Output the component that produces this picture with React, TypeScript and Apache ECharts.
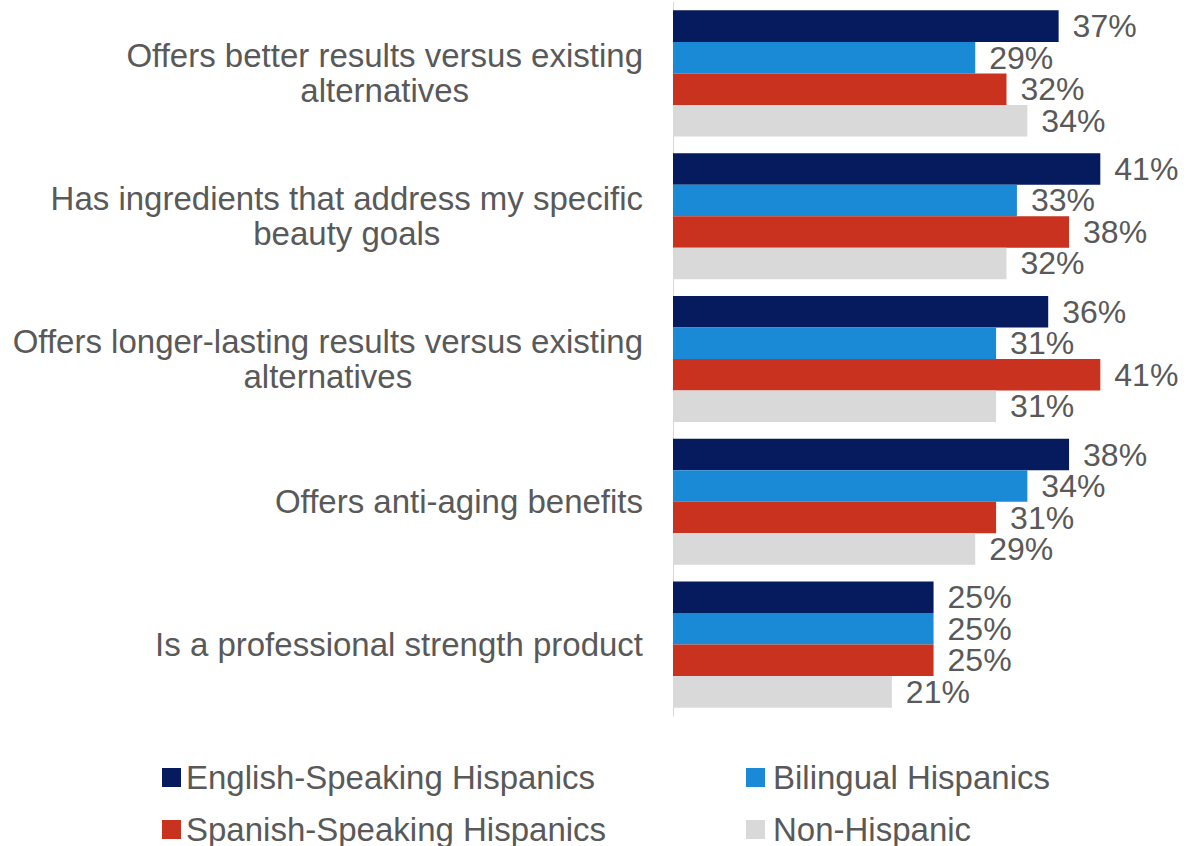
import React, { useEffect, useRef } from "react";
import * as echarts from "echarts";

const categories = [
  "Offers better results versus existing\nalternatives",
  "Has ingredients that address my specific\nbeauty goals",
  "Offers longer-lasting results versus existing\nalternatives",
  "Offers anti-aging benefits",
  "Is a professional strength product",
];

const seriesNames = [
  "English-Speaking Hispanics",
  "Bilingual Hispanics",
  "Spanish-Speaking Hispanics",
  "Non-Hispanic",
];

const englishSpeaking = [37, 41, 36, 38, 25];
const bilingual = [29, 33, 31, 34, 25];
const spanishSpeaking = [32, 38, 41, 31, 25];
const nonHispanic = [34, 32, 31, 29, 21];

const seriesValues = [englishSpeaking, bilingual, spanishSpeaking, nonHispanic];
const colors = ["#061a5e", "#1a8ad6", "#c9321f", "#d9d9d9"];

const FONT = "'Liberation Sans', Arial, sans-serif";
const TEXT = "#595959";

export default function App() {
  const ref = useRef<HTMLDivElement>(null);
  useEffect(() => {
    document.body.style.margin = "0";
    if (!ref.current) return;
    const chart = echarts.init(ref.current, undefined, { renderer: "svg" });
    const legendPos = [
      { left: 162, top: 761 },
      { left: 746, top: 761 },
      { left: 162, top: 813 },
      { left: 746, top: 813 },
    ];
    chart.setOption({
      animation: false,
      backgroundColor: "#ffffff",
      color: colors,
      textStyle: { fontFamily: FONT },
      grid: { left: 673, top: 2, width: 469, height: 714 },
      legend: seriesNames.map((n, i) => ({
        data: [n],
        left: legendPos[i].left,
        top: legendPos[i].top,
        padding: 0,
        icon: "rect",
        itemWidth: 19,
        itemHeight: 19,
        itemGap: 0,
        selectedMode: false,
        textStyle: {
          fontSize: 33,
          color: TEXT,
          fontFamily: FONT,
          padding: [0, 0, 0, i % 2 === 1 ? 3 : 0],
        },
      })),
      xAxis: {
        type: "value",
        min: 0,
        max: 45,
        show: false,
        splitLine: { show: false },
      },
      yAxis: {
        type: "category",
        inverse: true,
        data: categories,
        axisLine: { show: true, lineStyle: { color: "#d9d9d9", width: 1 } },
        axisTick: { show: false },
        splitLine: { show: false },
        axisLabel: {
          margin: 30,
          align: "right",
          formatter: (v: string) =>
            v
              .split("\n")
              .map((l) => `{c|${l}}`)
              .join("\n"),
          rich: {
            c: {
              align: "center",
              fontSize: 33,
              lineHeight: 35,
              color: TEXT,
              fontFamily: FONT,
            },
          },
        },
      },
      series: seriesNames.map((n, i) => ({
        name: n,
        type: "bar",
        data: seriesValues[i],
        barGap: "0%",
        barCategoryGap: "11.7%",
        itemStyle: { color: colors[i] },
        label: {
          show: true,
          position: "right",
          distance: 14,
          formatter: "{c}%",
          fontSize: 32,
          color: TEXT,
          fontFamily: FONT,
        },
      })),
    });
    return () => chart.dispose();
  }, []);
  return <div ref={ref} style={{ width: 1192, height: 846 }} />;
}
